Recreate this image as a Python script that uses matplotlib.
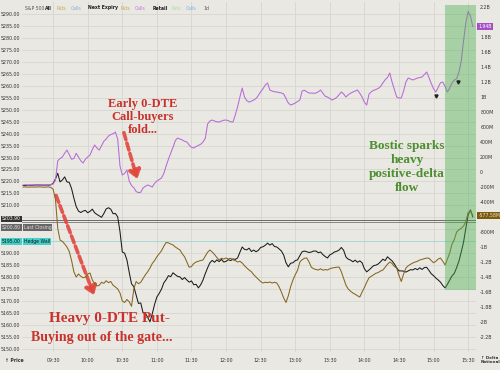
import matplotlib
matplotlib.use("Agg")
import matplotlib.pyplot as plt
import numpy as np

# 2-minute bars, minutes after 09:30 (pre-open from -26)
T = np.arange(-26, 365, 2)

SPX_PX = [5218.3, 5218.3, 5218.4, 5218.4, 5218.4, 5218.5, 5218.5, 5218.5, 5218.5, 5218.4, 5218.5, 5218.4, 5218.6,
          5219.2, 5221.0, 5223.4, 5219.8, 5220.6, 5221.9, 5219.8, 5219.6, 5217.0, 5213.0, 5209.5, 5207.6, 5207.0, 5207.6, 5207.9,
          5206.9, 5207.5, 5208.4, 5206.9, 5206.2, 5205.6, 5205.0, 5206.6, 5208.5, 5209.0, 5208.4, 5206.5, 5206.6, 5205.2, 5199.0,
          5190.5, 5190.0, 5187.2, 5182.0, 5177.2, 5176.0, 5172.5, 5169.0, 5169.2, 5165.1, 5164.9, 5163.2, 5161.3, 5164.7, 5168.6,
          5171.7, 5173.2, 5175.0, 5177.6, 5178.9, 5180.6, 5180.2, 5181.8, 5181.0, 5180.3, 5180.1, 5179.0, 5179.8, 5178.8, 5177.9,
          5178.4, 5176.8, 5177.0, 5175.5, 5176.8, 5178.8, 5181.5, 5183.9, 5186.0, 5187.0, 5186.2, 5187.2, 5186.5, 5187.4, 5186.3,
          5186.6, 5187.3, 5186.9, 5187.6, 5187.4, 5188.0, 5190.4, 5192.6, 5191.6, 5191.4, 5192.1, 5190.7, 5191.3, 5190.6, 5191.2,
          5192.4, 5192.7, 5193.3, 5194.2, 5193.4, 5194.0, 5192.8, 5192.6, 5191.8, 5190.9, 5189.2, 5186.0, 5184.3, 5185.8, 5186.0,
          5186.9, 5187.2, 5189.0, 5190.6, 5190.9, 5190.6, 5190.3, 5190.5, 5190.9, 5190.9, 5190.2, 5190.5, 5189.4, 5188.6, 5188.0,
          5189.3, 5189.8, 5190.5, 5190.8, 5191.3, 5192.4, 5191.2, 5188.4, 5187.5, 5187.1, 5186.4, 5187.1, 5186.2, 5186.8, 5186.0,
          5183.5, 5182.2, 5183.0, 5183.9, 5184.8, 5185.0, 5185.5, 5186.4, 5187.5, 5186.9, 5188.5, 5187.6, 5186.8, 5185.5, 5183.9,
          5182.6, 5182.6, 5182.5, 5182.1, 5182.6, 5183.1, 5183.0, 5183.6, 5183.1, 5183.9, 5183.2, 5184.0, 5184.1, 5182.8, 5181.4,
          5180.6, 5179.6, 5178.8, 5177.9, 5176.5, 5175.5, 5177.0, 5178.8, 5180.5, 5181.6, 5184.0, 5186.7, 5190.5, 5194.6, 5200.5,
          5206.0, 5208.1, 5205.2]

CALLS_M = [-173, -170, -175, -172, -173, -171, -174, -173, -172, -174, -173, -172, -170,
           -160, -110, 150, 180, 200, 250, 293, 230, 170, 180, 250, 200, 150, 120, 170, 200, 227,
           300, 360, 320, 293, 350, 410, 440, 480, 500, 510, 533, 440, 80,
           -40, -20, 27, -120, -180, -210, -260, -275, -270, -213, -190, -173, -185, -200, -150,
           -120, -100, -80, -20, 80, 170, 250, 330, 420, 453, 440, 427, 410, 400, 360,
           330, 320, 340, 355, 370, 400, 450, 640, 680, 693, 680, 670, 667, 680, 690,
           693, 685, 670, 667, 760, 870, 1000, 1120, 1000, 950, 933, 945, 960, 980, 1020,
           1070, 1110, 1160, 1187, 1093, 1080, 1070, 1067, 1060, 1055, 1040, 980, 920, 893, 905,
           920, 940, 960, 1080, 1090, 1070, 1053, 1053, 1050, 1053, 1070, 1093, 1050, 1010, 1000,
           980, 960, 975, 995, 1030, 1067, 1040, 1000, 1030, 1050, 1067, 1080, 1093, 1050, 1000,
           930, 893, 1040, 1070, 1090, 1100, 1115, 1140, 1187, 1230, 1260, 1320, 1200, 1100, 1000,
           987, 987, 1080, 1200, 1253, 1240, 1227, 1240, 1253, 1260, 1267, 1300, 1333, 1260, 1180,
           1110, 1067, 1130, 1190, 1200, 1140, 1067, 1120, 1187, 1225, 1245, 1330, 1480, 1750, 1990,
           2140, 2080, 1940]

PUTS_M = [-200, -198, -202, -200, -199, -201, -200, -198, -200, -202, -200, -199, -205,
          -230, -360, -750, -907, -925, -960, -1000, -1060, -1180, -1330, -1400, -1360, -1390, -1410, -1400,
          -1360, -1347, -1440, -1490, -1520, -1510, -1470, -1485, -1450, -1475, -1460, -1510, -1533, -1560, -1613,
          -1720, -1740, -1700, -1730, -1790, -1560, -1460, -1490, -1470, -1420, -1370, -1330, -1280, -1220, -1180,
          -1130, -1090, -1050, -990, -940, -945, -960, -973, -1000, -1020, -1040, -1090, -1130, -1200, -1270,
          -1260, -1220, -1200, -1190, -1180, -1173, -1120, -1070, -1040, -1067, -1100, -1140, -1173, -1150, -1160,
          -1147, -1160, -1150, -1173, -1180, -1200, -1190, -1213, -1250, -1280, -1307, -1330, -1370, -1400, -1430,
          -1460, -1480, -1470, -1475, -1467, -1480, -1470, -1480, -1530, -1600, -1680, -1740, -1650, -1530, -1440,
          -1370, -1310, -1200, -1170, -1150, -1147, -1200, -1270, -1290, -1300, -1307, -1290, -1310, -1300, -1307,
          -1290, -1280, -1275, -1270, -1267, -1330, -1420, -1510, -1560, -1590, -1613, -1630, -1650, -1667, -1600,
          -1540, -1470, -1410, -1390, -1370, -1350, -1340, -1320, -1307, -1270, -1230, -1200, -1220, -1260, -1280,
          -1380, -1460, -1360, -1280, -1250, -1230, -1213, -1200, -1190, -1173, -1165, -1155, -1147, -1150, -1180,
          -1210, -1190, -1160, -1147, -1190, -1240, -1160, -1080, -960, -900, -800, -770, -750, -720, -660,
          -540, -520, -577.58]

TIME_TICKS = [0, 30, 60, 90, 120, 150, 180, 210, 240, 270, 300, 330, 360]
TIME_LABELS = ["09:30", "10:00", "10:30", "11:00", "11:30", "12:00", "12:30", "13:00", "13:30",
               "14:00", "14:30", "15:00", "15:30"]
PRICE_TICKS = list(range(5150, 5291, 5))
DELTA_TICKS = list(range(-2200, 2201, 200))

LAST_PX, LAST_CLOSE, HEDGE_WALL = 5203.9, 5203.0, 5195.0
BOSTIC_START = 340

BG = "#e9e8e3"
GRID = "#d6d5d0"
C_SPX = "#1b1b1b"
C_PUTS = "#86661f"
C_CALLS = "#b76ad8"
C_RED = "#c9322c"
C_GREEN = "#4d8f2f"

fig = plt.figure(figsize=(5, 3.7), dpi=100, facecolor=BG)
ax = fig.add_axes([22 / 500, 18 / 370, 454 / 500, 350 / 370], facecolor=BG)
ax2 = ax.twinx()

ax.set_xlim(-27, 366.8)
ax.set_ylim(5148.7, 5295.0)
ax2.set_ylim(-2400, 2267)

for a in (ax, ax2):
    for s in a.spines.values():
        s.set_visible(False)
    a.tick_params(length=0, labelsize=3.4, colors="#333333")

ax.set_xticks(TIME_TICKS)
ax.set_xticklabels(TIME_LABELS)
ax.tick_params(axis="x", pad=4)
ax.set_yticks(PRICE_TICKS)
# labels sitting under the value boxes are hidden, as in the terminal view
ax.set_yticklabels(["" if v in (5195, 5200, 5205) else f"{v:.2f}" for v in PRICE_TICKS])
ax.tick_params(axis="y", pad=1.5)
ax.grid(True, color=GRID, linewidth=0.6)
ax.set_axisbelow(True)


def fmt_delta(v):
    if v == 0:
        return "0"
    if abs(v) >= 1000:
        return f"{v / 1000:g}B"
    return f"{v:g}M"


ax2.set_yticks(DELTA_TICKS)
ax2.set_yticklabels(["" if v in (-600, 2000) else fmt_delta(v) for v in DELTA_TICKS])
ax2.tick_params(axis="y", pad=3)

# reference levels
ax.axhline(LAST_PX, color="#555555", lw=0.6)
ax.axhline(LAST_CLOSE, color="#777777", lw=0.6)
ax.axhline(HEDGE_WALL, color="#9fd8d6", lw=0.6)

ax.plot(T, SPX_PX, color=C_SPX, lw=0.75, zorder=3)
ax2.plot(T, PUTS_M, color=C_PUTS, lw=0.75, zorder=3)
ax2.plot(T, CALLS_M, color=C_CALLS, lw=0.75, zorder=3)

# Bostic window
ax2.axvspan(BOSTIC_START, 366.8, ymin=0.177, ymax=0.991, color="#4caf50", alpha=0.42,
            lw=0, zorder=4)

# markers on calls line
ax2.plot([332, 351], [1013, 1200], marker="v", ms=2.2, color="#222222", ls="none", zorder=5)

# annotations
serif = "Liberation Serif"
arrow = dict(arrowstyle="-|>,head_width=0.35,head_length=0.5", color="#e2473d", lw=2.6,
             linestyle=(0, (2, 1)), alpha=0.9)
ax.text(78, 5247, "Early 0-DTE\nCall-buyers\nfold...", ha="center", va="center", color=C_RED,
        fontsize=9, family=serif, fontweight="bold", linespacing=1.1, zorder=6)
ax.annotate("", xy=(73.7, 5219.8), xytext=(60.7, 5241.5), arrowprops=arrow, zorder=6)
ax.text(48.5, 5162.8, "Heavy 0-DTE Put-", ha="center", va="center",
        color=C_RED, fontsize=11, family=serif, fontweight="bold", zorder=6)
ax.text(42.5, 5154.8, "Buying out of the gate...", ha="center", va="center",
        color=C_RED, fontsize=10, family=serif, fontweight="bold", zorder=6)
ax.annotate("", xy=(36.4, 5171.3), xytext=(1.7, 5215.2), arrowprops=arrow, zorder=6)
ax.text(307, 5226, "Bostic sparks\nheavy\npositive-delta\nflow", ha="center", va="center",
        color=C_GREEN, fontsize=9.5, family=serif, fontweight="bold", linespacing=1.2, zorder=6)

# header
fig.text(25 / 500, 1 - 8 / 370, "S&P 500", fontsize=3.3, color="#555555", va="center")
hx = 45
for word, col in [("All", "#222222"), ("Puts", "#c9a23a"), ("Calls", "#7fb0d8"),
                  ("Next Expiry", "#222222"), ("Puts", "#c9a23a"), ("Calls", "#c27ad8"),
                  ("Retail", "#222222"), ("Puts", "#a8d8a0"), ("Calls", "#7fb0d8"), ("1d", "#555555")]:
    fig.text(hx / 500, 1 - 8 / 370, word, fontsize=3.3, color=col, va="center",
             fontweight="bold" if col == "#222222" else "normal")
    hx += len(word) * 2.6 + 4

# value boxes
box = dict(boxstyle="square,pad=0.2", lw=0)
ytr = ax.get_yaxis_transform()
xl = -20 / 454
ax.text(xl, LAST_PX + 0.4, f"{LAST_PX:.2f}", transform=ytr, ha="left", va="center",
        fontsize=3.3, color="white", bbox=dict(box, fc="#333333"), zorder=7)
ax.text(xl, LAST_CLOSE - 2.3, "5200.80", transform=ytr, ha="left", va="center",
        fontsize=3.3, color="#dddddd", bbox=dict(box, fc="#666666"), zorder=7)
ax.text(0.004, LAST_CLOSE - 2.3, "Last Closing", transform=ytr, ha="left", va="center",
        fontsize=3.3, color="#dddddd", bbox=dict(box, fc="#666666"), zorder=7)
ax.text(xl, HEDGE_WALL, f"{HEDGE_WALL:.2f}", transform=ytr, ha="left", va="center",
        fontsize=3.3, color="#111111", bbox=dict(box, fc="#44cfc9"), zorder=7)
ax.text(0.004, HEDGE_WALL, "Hedge Wall", transform=ytr, ha="left", va="center",
        fontsize=3.3, color="#111111", bbox=dict(box, fc="#44cfc9"), zorder=7)
ytr2 = ax2.get_yaxis_transform()
ax2.text(1.005, CALLS_M[-1], "1.94B", transform=ytr2, ha="left", va="center", fontsize=3.3,
         color="white", bbox=dict(box, fc="#a550c8"), zorder=7)
ax2.text(1.005, PUTS_M[-1], "-577.58M", transform=ytr2, ha="left", va="center", fontsize=3.3,
         color="#f3e3b0", bbox=dict(box, fc="#7a5a14"), zorder=7)

fig.text(5 / 500, 1 - 360 / 370, "\u2191 Price", fontsize=3.3, color="#333333", va="center",
         fontweight="bold")
fig.text(481 / 500, 1 - 360 / 370, "\u2191 Delta\nNotional", fontsize=3.0, color="#333333",
         va="center", fontweight="bold", linespacing=1.1)

fig.savefig("out.png", dpi=100, facecolor=BG)
